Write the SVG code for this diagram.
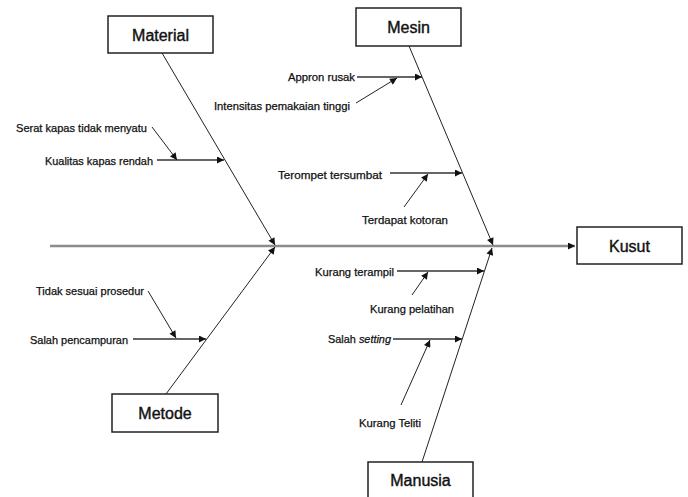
<svg xmlns="http://www.w3.org/2000/svg" width="688" height="497" viewBox="0 0 688 497">
<style>
.box{fill:#fff;stroke:#222;stroke-width:1.5}
.title{font-family:"Liberation Sans",Arial,sans-serif;font-size:16px;fill:#111;stroke:#111;stroke-width:0.4;text-anchor:middle;dominant-baseline:central}
.lbl{font-family:"Liberation Sans",Arial,sans-serif;font-size:10.5px;fill:#111;stroke:#111;stroke-width:0.25;dominant-baseline:central}
.bone{stroke:#222;stroke-width:1;fill:none}
.sub{stroke:#333;stroke-width:1.3;fill:none}
.spine{stroke:#8c8c8c;stroke-width:2.5;fill:none}
</style>
<defs>
<marker id="ah" viewBox="0 0 10 10" refX="10" refY="5" markerWidth="9" markerHeight="7" markerUnits="userSpaceOnUse" orient="auto">
<path d="M0,0 L10,5 L0,10 Z" fill="#111"/>
</marker>
</defs>
<g id="connectors">
<line class="spine" x1="50" y1="246" x2="575" y2="246" marker-end="url(#ah)"/>
<line class="bone" x1="162" y1="53" x2="275" y2="245" marker-end="url(#ah)"/>
<line class="bone" x1="409" y1="46" x2="493" y2="245" marker-end="url(#ah)"/>
<line class="bone" x1="166" y1="394" x2="275" y2="247" marker-end="url(#ah)"/>
<line class="bone" x1="422" y1="462" x2="492" y2="248" marker-end="url(#ah)"/>
<line class="sub" x1="157" y1="160" x2="224" y2="160" marker-end="url(#ah)"/>
<line class="bone" x1="152" y1="127" x2="177" y2="160" marker-end="url(#ah)"/>
<line class="sub" x1="357" y1="77" x2="422" y2="77" marker-end="url(#ah)"/>
<line class="bone" x1="356" y1="103" x2="397" y2="78" marker-end="url(#ah)"/>
<line class="sub" x1="390" y1="173" x2="462" y2="173" marker-end="url(#ah)"/>
<line class="bone" x1="404" y1="207" x2="428" y2="174" marker-end="url(#ah)"/>
<line class="sub" x1="133" y1="339" x2="206" y2="339" marker-end="url(#ah)"/>
<line class="bone" x1="148" y1="291" x2="176" y2="338" marker-end="url(#ah)"/>
<line class="sub" x1="397" y1="271" x2="484" y2="271" marker-end="url(#ah)"/>
<line class="bone" x1="412" y1="295" x2="428" y2="272" marker-end="url(#ah)"/>
<line class="sub" x1="393" y1="339" x2="462" y2="339" marker-end="url(#ah)"/>
<line class="bone" x1="401" y1="405" x2="430" y2="340" marker-end="url(#ah)"/>
</g>
<g id="material"><rect class="box" x="108" y="16" width="105" height="37"/><text class="title" x="160.5" y="35">Material</text></g>
<g id="mesin"><rect class="box" x="356" y="8" width="105" height="38"/><text class="title" x="408.5" y="27">Mesin</text></g>
<g id="metode"><rect class="box" x="112" y="394" width="106" height="38"/><text class="title" x="165" y="413">Metode</text></g>
<g id="manusia"><rect class="box" x="368" y="462" width="105" height="40"/><text class="title" x="420.5" y="480">Manusia</text></g>
<g id="kusut"><rect class="box" x="577" y="227" width="105" height="37"/><text class="title" x="629.5" y="246">Kusut</text></g>
<g id="labels">
<text class="lbl" x="16" y="128" textLength="131" lengthAdjust="spacingAndGlyphs">Serat kapas tidak menyatu</text>
<text class="lbl" x="45" y="161" textLength="108" lengthAdjust="spacingAndGlyphs">Kualitas kapas rendah</text>
<text class="lbl" x="288" y="77" textLength="67" lengthAdjust="spacingAndGlyphs">Appron rusak</text>
<text class="lbl" x="214" y="106" textLength="136" lengthAdjust="spacingAndGlyphs">Intensitas pemakaian tinggi</text>
<text class="lbl" x="278" y="175" textLength="104" lengthAdjust="spacingAndGlyphs">Terompet tersumbat</text>
<text class="lbl" x="362" y="220" textLength="86" lengthAdjust="spacingAndGlyphs">Terdapat kotoran</text>
<text class="lbl" x="36" y="291" textLength="108" lengthAdjust="spacingAndGlyphs">Tidak sesuai prosedur</text>
<text class="lbl" x="30" y="340" textLength="98" lengthAdjust="spacingAndGlyphs">Salah pencampuran</text>
<text class="lbl" x="315" y="272" textLength="79" lengthAdjust="spacingAndGlyphs">Kurang terampil</text>
<text class="lbl" x="370" y="309" textLength="84" lengthAdjust="spacingAndGlyphs">Kurang pelatihan</text>
<text class="lbl" x="328" y="339" textLength="63" lengthAdjust="spacingAndGlyphs">Salah <tspan font-style="italic">setting</tspan></text>
<text class="lbl" x="359" y="423" textLength="62" lengthAdjust="spacingAndGlyphs">Kurang Teliti</text>
</g>
</svg>
